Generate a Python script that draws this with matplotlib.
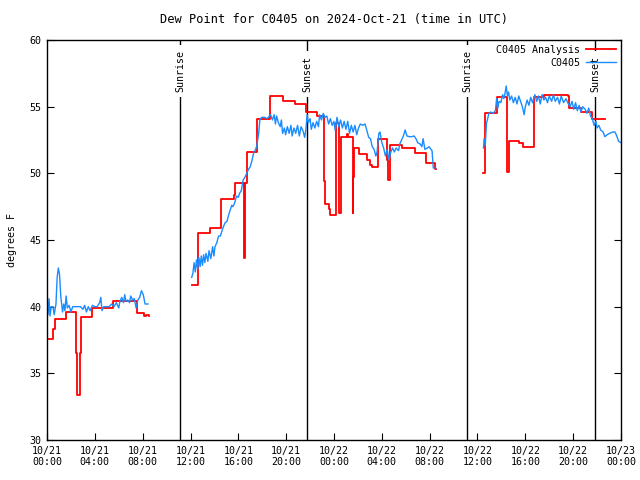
import matplotlib
matplotlib.use("Agg")
import matplotlib.pyplot as plt
import numpy as np

nan = np.nan

# hours since 2024-10-21 00:00 UTC ; analysis (step values), nan splits the gaps
red_h = [0.00, 0.50, 0.65, 1.55, 2.42, 2.50, 2.72, 2.82, 3.73, 5.50, 7.55, 8.00, 8.15, 8.30, 8.50,
         8.51,
         12.10, 12.60, 13.65, 14.55, 15.60, 15.70, 16.50, 16.55, 16.70, 17.60, 18.65, 19.70, 20.70,
         21.70, 22.60, 23.15, 23.25, 23.55, 23.70, 24.20, 24.45, 24.60, 25.05, 25.20, 25.55, 25.62,
         25.70, 26.05, 26.75, 27.00, 27.15, 27.65, 28.40, 28.50, 28.65, 29.65, 30.75, 31.70, 32.45,
         32.50, 32.51,
         36.50, 36.65, 37.65, 38.50, 38.62, 39.50, 39.80, 40.75, 41.60, 43.55, 43.65, 44.65, 45.60,
         46.70]
red_v = [37.6, 38.3, 39.05, 39.6, 36.5, 33.4, 36.5, 39.25, 39.9, 40.45, 39.55, 39.5, 39.3, 39.4, 39.3,
         nan,
         41.6, 45.55, 45.9, 48.05, 48.4, 49.25, 43.65, 49.25, 51.6, 54.1, 55.8, 55.4, 55.2,
         54.6, 54.3, 49.4, 47.7, 47.3, 46.9, 53.75, 47.0, 52.7, 52.95, 52.7, 47.0, 49.75,
         51.9, 51.45, 51.0, 50.6, 50.45, 52.6, 51.0, 49.5, 52.1, 51.9, 51.55, 50.75, 50.3,
         50.3, nan,
         50.05, 54.5, 55.75, 50.1, 52.4, 52.3, 52.0, 55.75, 55.9, 55.8, 54.9, 54.6, 54.1,
         54.1]

# station observations
blue_h = [0.00, 0.08, 0.17, 0.25, 0.35, 0.50, 0.60, 0.75, 0.85, 0.95, 1.05, 1.15, 1.30, 1.40, 1.50,
          1.60, 1.70, 1.85, 2.00, 2.15, 2.40, 2.60, 2.80, 3.00, 3.15, 3.30, 3.45, 3.60, 3.80, 4.00,
          4.20, 4.40, 4.50, 4.60, 4.75, 5.00, 5.20, 5.40, 5.60, 5.80, 6.00, 6.10, 6.25, 6.40, 6.50,
          6.60, 6.75, 6.90, 7.00, 7.15, 7.30, 7.45, 7.60, 7.75, 7.90, 8.05, 8.20, 8.45,
          8.46,
          12.10, 12.20, 12.30, 12.40, 12.50, 12.60, 12.70, 12.80, 12.90, 13.00, 13.10, 13.20, 13.30,
          13.45, 13.55, 13.70, 13.85, 13.95, 14.05, 14.20, 14.35, 14.50, 14.60, 14.75, 14.90, 15.05,
          15.15, 15.30, 15.45, 15.55, 15.70, 15.85, 16.00, 16.10, 16.25, 16.40, 16.55, 16.70, 16.85,
          17.00, 17.15, 17.30, 17.45, 17.55, 17.70, 17.80, 17.95, 18.20, 18.40, 18.60, 18.70, 18.85,
          19.00, 19.10, 19.20, 19.35, 19.50, 19.60, 19.70, 19.85, 19.95, 20.10, 20.25, 20.40, 20.50,
          20.65, 20.80, 20.95, 21.10, 21.25, 21.40, 21.55, 21.65, 21.75, 21.85, 22.00, 22.10, 22.25,
          22.40, 22.55, 22.70, 22.80, 22.95, 23.10, 23.25, 23.40, 23.55, 23.70, 23.85, 24.00, 24.10,
          24.25, 24.40, 24.55, 24.70, 24.85, 25.00, 25.15, 25.30, 25.45, 25.60, 25.75, 25.90, 26.05,
          26.20, 26.40, 26.60, 26.75, 26.90, 27.05, 27.20, 27.35, 27.50, 27.60, 27.75, 27.85, 28.00,
          28.15, 28.30, 28.45, 28.60, 28.75, 28.90, 29.05, 29.20, 29.40, 29.50, 29.65, 29.80, 29.95,
          30.10, 30.30, 30.50, 30.70, 30.85, 31.00, 31.20, 31.35, 31.45, 31.60, 31.80, 31.95, 32.10,
          32.20, 32.30, 32.50,
          32.51,
          36.50, 36.55, 36.65, 36.75, 36.85, 36.95, 37.10, 37.30, 37.50, 37.60, 37.70, 37.80, 37.95,
          38.10, 38.20, 38.30, 38.40, 38.50, 38.60, 38.70, 38.85, 39.00, 39.15, 39.30, 39.45, 39.60,
          39.75, 39.90, 40.00, 40.15, 40.30, 40.45, 40.60, 40.80, 40.95, 41.10, 41.25, 41.40, 41.55,
          41.70, 41.85, 42.00, 42.20, 42.35, 42.50, 42.70, 42.85, 43.00, 43.20, 43.40, 43.60, 43.75,
          43.90, 44.05, 44.20, 44.35, 44.50, 44.65, 44.80, 45.00, 45.15, 45.30, 45.45, 45.60, 45.75,
          45.90, 46.00, 46.15, 46.30, 46.50, 46.65, 46.85, 47.05, 47.30, 47.50, 47.65, 47.80, 48.00]
blue_v = [40.1, 39.4, 40.6, 39.3, 40.0, 40.0, 39.4, 40.2, 42.2, 42.9, 42.4, 40.8, 39.6, 40.2, 39.7,
          40.8, 39.9, 40.1, 39.6, 40.0, 40.0, 40.0, 40.0, 39.8, 40.1, 39.6, 40.0, 39.7, 40.1, 40.0,
          40.0, 40.3, 40.7, 39.7, 40.0, 40.0, 40.0, 40.2, 40.0, 40.3, 39.9, 40.4, 40.7, 40.3, 40.9,
          40.4, 40.5, 40.3, 40.8, 40.5, 40.6, 39.9, 40.5, 40.7, 41.2, 40.9, 40.2, 40.2,
          nan,
          42.2, 42.5, 43.3, 42.6, 43.5, 42.8, 43.7, 43.0, 43.8, 43.1, 43.9, 43.3, 44.0,
          43.4, 44.2, 43.6, 44.5, 43.8, 44.5, 44.8, 45.3, 45.3, 45.6, 46.0, 46.3, 46.4,
          46.75, 47.2, 47.6, 47.5, 47.8, 48.3, 48.2, 48.5, 48.7, 49.5, 49.7, 50.0, 50.3,
          50.5, 51.0, 51.6, 51.8, 52.1, 53.0, 54.0, 54.2, 54.2, 54.1, 54.3, 54.4, 54.0,
          54.4, 53.7, 54.3, 53.8, 53.5, 54.0, 53.0, 53.4, 52.9, 53.5, 53.0, 53.6, 52.8,
          53.4, 53.0, 53.6, 52.8, 53.5, 53.2, 52.7, 53.3, 54.4, 53.8, 54.1, 53.3, 53.8,
          53.4, 53.9, 53.5, 54.4, 54.0, 54.5, 54.2, 54.3, 53.7, 54.1, 53.6, 53.9, 53.2,
          54.2, 53.5, 54.0, 53.4, 53.9, 53.3, 53.9, 53.0, 53.6, 53.1, 53.6, 52.9, 53.4,
          53.7, 53.6, 53.7, 53.2, 52.7, 52.6, 52.0, 51.8, 51.3, 51.6, 53.0, 53.1, 52.3,
          51.9, 51.3, 51.8, 51.0, 51.6, 51.9, 51.6, 51.9, 51.7, 52.2, 52.5, 52.8, 53.25,
          52.8, 52.75, 52.75, 52.8, 52.6, 52.3, 52.2, 52.0, 52.6, 51.8, 51.9, 52.0, 51.8,
          51.7, 50.4, 50.4,
          nan,
          51.9, 52.6, 52.1, 53.75, 54.1, 54.5, 54.6, 54.5, 54.7, 55.6, 54.9, 55.4, 55.3,
          55.9, 55.6, 56.0, 56.55, 55.8, 56.1, 55.5, 55.8, 55.3, 55.7, 55.2, 55.8, 55.4,
          55.0, 54.4, 55.0, 55.5, 55.1, 55.7, 55.3, 55.9, 55.4, 55.8, 55.2, 55.9, 55.5,
          55.7, 55.3, 55.8, 55.4, 55.9, 55.4, 55.7, 55.2, 55.8, 55.3, 55.6, 55.2, 55.0,
          55.4, 54.8, 55.3, 54.7, 55.1, 54.6, 55.0, 54.8, 54.5, 54.9, 54.3, 54.1, 53.6,
          53.9, 53.4, 53.6, 53.25, 53.1, 52.75, 52.9, 53.0, 53.1, 53.1, 52.8, 52.4, 52.3]

# sunrise / sunset (hours since start)
sun_h = [11.12, 21.75, 35.12, 45.82]
sun_lbl = ['Sunrise', 'Sunset', 'Sunrise', 'Sunset']

tick_h = [0, 4, 8, 12, 16, 20, 24, 28, 32, 36, 40, 44, 48]
tick_lbl = ['10/21\n00:00', '10/21\n04:00', '10/21\n08:00', '10/21\n12:00', '10/21\n16:00',
            '10/21\n20:00', '10/22\n00:00', '10/22\n04:00', '10/22\n08:00', '10/22\n12:00',
            '10/22\n16:00', '10/22\n20:00', '10/23\n00:00']

plt.rcParams.update({'font.family': 'DejaVu Sans Mono', 'font.size': 7.2})

fig = plt.figure(figsize=(6.4, 4.8), dpi=100)
ax = fig.add_axes([47/640, 40/480, 574/640, 400/480])

ax.plot(red_h, red_v, drawstyle='steps-post', color='red', lw=1.3, label='C0405 Analysis')
ax.plot(blue_h, blue_v, color='#1a8cff', lw=1.0, label='C0405')

for h, s in zip(sun_h, sun_lbl):
    ax.axvline(h, color='black', lw=1.0, zorder=1)
    ax.text(h, 56.1, s, rotation=90, ha='center', va='bottom', zorder=3,
            bbox=dict(facecolor='white', edgecolor='none', pad=3.5))

ax.set_xlim(0, 48)
ax.set_ylim(30, 60)
ax.set_xticks(tick_h)
ax.set_xticklabels(tick_lbl)
ax.set_yticks(np.arange(30, 61, 5))
ax.tick_params(axis='y', direction='in', right=True, length=5, pad=4)
ax.tick_params(axis='x', direction='in', top=False, length=5, pad=4)
for sp in ax.spines.values():
    sp.set_linewidth(1.0)

ax.set_ylabel('degrees F', labelpad=9)
ax.set_title('Dew Point for C0405 on 2024-Oct-21 (time in UTC)', pad=12)

leg = ax.legend(loc='upper right', frameon=False, markerfirst=False, handlelength=3.0,
                borderaxespad=0.1, labelspacing=0.3, handletextpad=0.6)
leg.set_zorder(5)

fig.savefig('out.png', dpi=100)
